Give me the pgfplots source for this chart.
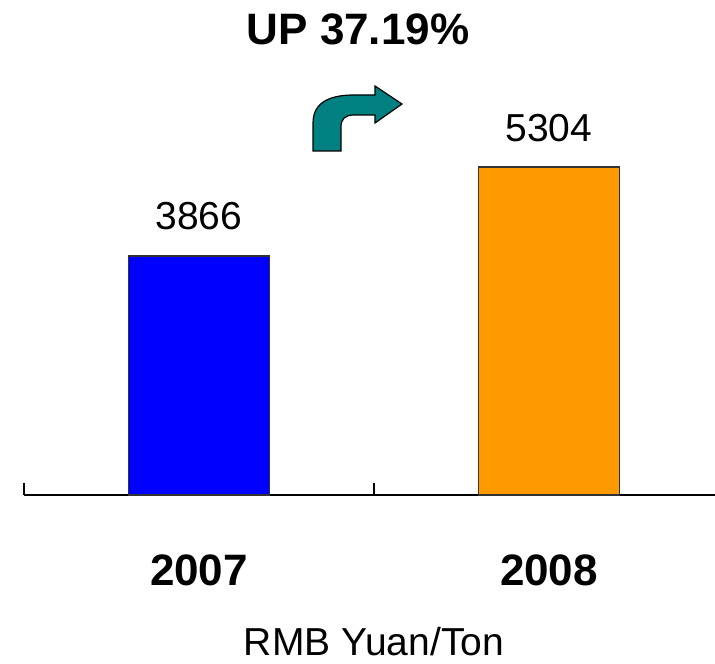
\documentclass[border=0pt]{standalone}
\usepackage{fontspec}
\setmainfont{Liberation Sans}
\usepackage{pgfplots}
\pgfplotsset{compat=1.18}

\definecolor{barblue}{HTML}{0000FF}
\definecolor{barorange}{HTML}{FF9900}
\definecolor{arrowteal}{HTML}{008080}

\begin{document}
\begin{tikzpicture}
\begin{axis}[
  at={(0,0)}, anchor=south west,
  scale only axis, width=350pt, height=185.5pt,
  xmin=-0.5, xmax=1.5, ymin=0, ymax=6000,
  clip=false,
  axis y line=none,
  axis x line*=bottom,
  axis line style={black, line width=1pt, -},
  xtick={-0.5,0.5,1.5}, xticklabels={},
  xtick align=inside, major tick length=-6pt,
  tick style={black, line width=0.8pt},
  ybar, bar width=70.5pt, bar shift=0pt,
  nodes near coords,
  /pgf/number format/1000 sep={},
  /pgf/number format/assume math mode=true,
  every node near coord/.append style={anchor=base, yshift=13pt,
    font=\fontsize{19.5}{23}\selectfont, text=black},
]
\addplot[fill=barblue, draw=black!80, line width=0.6pt] coordinates {(0,3866)};
\addplot[fill=barorange, draw=black!80, line width=0.6pt] coordinates {(1,5304)};

\node[anchor=base, font=\bfseries\fontsize{22}{26}\selectfont] at (axis cs:0,0) [yshift=-45pt] {2007};
\node[anchor=base, font=\bfseries\fontsize{22}{26}\selectfont] at (axis cs:1,0) [yshift=-45pt] {2008};
\end{axis}

\node[anchor=base, font=\fontsize{19.5}{23}\selectfont] at (175pt,-80pt) {RMB Yuan/Ton};
\node[anchor=base, font=\bfseries\fontsize{22}{26}\selectfont] at (167pt,225pt) {UP 37.19\%};

\filldraw[fill=arrowteal, draw=black, line width=0.6pt, line join=miter]
  (144.5pt,172pt) -- (144.5pt,186pt)
  .. controls (144.5pt,197pt) and (154pt,200pt) .. (165pt,200pt)
  -- (175.5pt,200pt) -- (175.5pt,204.5pt) -- (189pt,195.5pt)
  -- (175.5pt,186pt) -- (175.5pt,190pt) -- (165pt,190pt)
  .. controls (160.5pt,190pt) and (158.5pt,188pt) .. (158.5pt,184pt)
  -- (158.5pt,172pt) -- cycle;

\pgfresetboundingbox
\useasboundingbox (-12pt,-84pt) rectangle (345.5pt,247.5pt);
\end{tikzpicture}
\end{document}
